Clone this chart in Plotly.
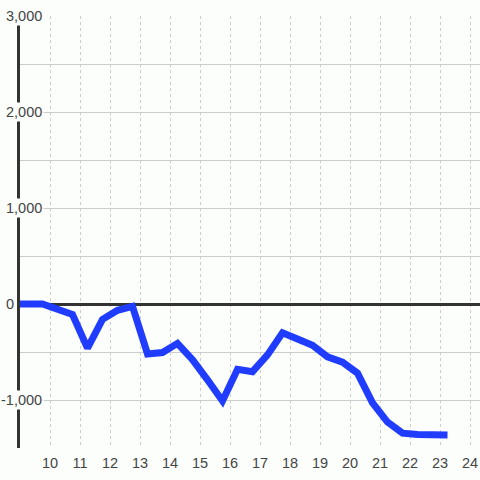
import plotly.graph_objects as go

# hour of day vs cumulative value
hours = [9.0, 9.25, 9.75, 10.25, 10.75, 11.25, 11.75, 12.25, 12.75, 13.25,
         13.75, 14.25, 14.75, 15.25, 15.75, 16.25, 16.75, 17.25, 17.75, 18.25,
         18.75, 19.25, 19.75, 20.25, 20.75, 21.25, 21.75, 22.25, 22.75, 23.25]
values = [0, 0, 0, -55, -110, -460, -160, -65, -25, -520,
          -505, -410, -580, -790, -1010, -680, -705, -530, -300, -365,
          -430, -550, -605, -720, -1030, -1230, -1345, -1360, -1365, -1365]

x_ticks = list(range(10, 25))
y_grid = [-1500, -1000, -500, 0, 500, 1000, 1500, 2000, 2500, 3000]
y_labels = [-1000, 0, 1000, 2000, 3000]

BG = "#fcfefc"
TEXT = "#444444"
DARK = "#333333"
GRID = "#cccccc"
LINE = "#1f3cff"

fig = go.Figure()

fig.add_trace(
    go.Scatter(
        x=hours, y=values,
        mode="lines",
        line=dict(color=LINE, width=7),
        showlegend=False,
        hoverinfo="skip",
    )
)

# y tick labels sit on top of the axis line with a background patch
for v in y_labels:
    fig.add_annotation(
        x=0, xref="paper", xshift=24 if v != 0 else -4,
        y=v, yref="y",
        text=f"{v:,}",
        showarrow=False,
        xanchor="right", yanchor="middle",
        bgcolor=BG,
        borderpad=1,
        font=dict(size=14.5, color=TEXT),
    )

fig.update_layout(
    width=480, height=480,
    paper_bgcolor=BG,
    plot_bgcolor=BG,
    margin=dict(l=20, r=0, t=16, b=32),
    font=dict(family="Liberation Sans, Arial, sans-serif", size=14, color=TEXT),
    showlegend=False,
)
fig.update_xaxes(
    range=[9, 24.333],
    tickvals=x_ticks,
    ticktext=[str(t) for t in x_ticks],
    showgrid=True, gridcolor=GRID, gridwidth=1, griddash="3px,3px",
    zeroline=False, showline=False, ticks="",
    ticklabelstandoff=4,
    tickfont=dict(size=14.5, color=TEXT),
)
fig.update_yaxes(
    range=[-1500, 3000],
    tickvals=y_grid,
    showticklabels=False,
    showgrid=True, gridcolor=GRID, gridwidth=1,
    zeroline=True, zerolinecolor=DARK, zerolinewidth=3,
    showline=True, linecolor=DARK, linewidth=3,
    ticks="",
)

# page body has a default 8px margin; drop it so the figure fills the window
fig.write_html(
    "out.html",
    config={"displayModeBar": False},
    post_script="document.body.style.margin='0';document.body.style.background='" + BG + "';",
)
